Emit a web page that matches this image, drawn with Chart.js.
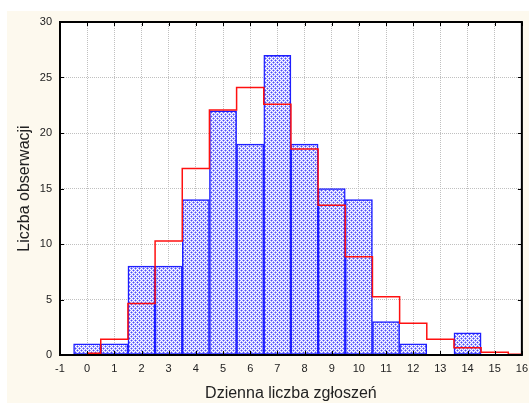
<!DOCTYPE html>
<html lang="pl">
<head>
    <meta charset="UTF-8">
    <title>Dzienna liczba zgłoszeń</title>
    <script src="https://cdn.jsdelivr.net/npm/chart.js"></script>
    <style>
        html, body { margin: 0; padding: 0; background: #ffffff; overflow: hidden; }
        .wrap { position: relative; width: 529px; height: 403px; overflow: hidden; }
        .cream { position: absolute; left: 7px; top: 11px; right: 0; bottom: 0; background: #fdf9ee; }
        #chart { position: absolute; left: 0; top: 0; }
    </style>
</head>
<body>
    <div class="wrap">
        <div class="cream"></div>
        <canvas id="chart" width="535" height="403"></canvas>
    </div>
    <script>
        // liczba zgłoszeń w ciągu dnia (środki klas)
        const bins = [0, 1, 2, 3, 4, 5, 6, 7, 8, 9, 10, 11, 12, 13, 14, 15];
        // liczba obserwacji w klasach
        const observed = [1, 1, 8, 8, 14, 22, 19, 27, 19, 15, 14, 3, 1, 0, 2, 0];
        // rozkład oczekiwany (linia schodkowa), klasy 0..16 obcięte do [0, 16]
        const expected = [0.15, 1.41, 4.65, 10.27, 16.8, 22.07, 24.1, 22.6, 18.55, 13.5, 8.86, 5.25, 2.85, 1.41, 0.66, 0.24, 0.06];
        const xMin = -1, xMax = 16;

        // wzór kropkowany dla słupków
        function makePattern() {
            const c = document.createElement('canvas');
            c.width = 4; c.height = 4;
            const g = c.getContext('2d');
            const W = '#ffffff', L = '#a4a4ff', B = '#4646ff';
            const tile = [
                [L, W, L, B],
                [W, L, W, L],
                [L, B, L, W],
                [W, L, W, L]
            ];
            tile.forEach((row, y) => row.forEach((col, x) => { g.fillStyle = col; g.fillRect(x, y, 1, 1); }));
            return document.getElementById('chart').getContext('2d').createPattern(c, 'repeat');
        }

        const barData = bins.map((b, i) => ({ x: b, y: observed[i] }));
        const stepData = expected.map((v, k) => ({ x: Math.max(k - 0.5, 0), y: v }));
        stepData.push({ x: xMax, y: expected[expected.length - 1] });

        const frame = {
            id: 'frame',
            beforeDraw(chart) {
                const a = chart.chartArea, ctx = chart.ctx;
                ctx.save();
                ctx.fillStyle = '#ffffff';
                ctx.fillRect(a.left, a.top, a.right - a.left, a.bottom - a.top);
                ctx.restore();
            },
            afterDraw(chart) {
                const a = chart.chartArea, ctx = chart.ctx;
                const xs = chart.scales.x, ys = chart.scales.y;
                ctx.save();
                ctx.strokeStyle = '#000000';
                ctx.lineWidth = 1;
                ctx.beginPath();
                xs.ticks.forEach(t => {
                    const px = Math.round(xs.getPixelForValue(t.value)) + 0.5;
                    ctx.moveTo(px, a.bottom); ctx.lineTo(px, a.bottom - 4);
                    ctx.moveTo(px, a.top); ctx.lineTo(px, a.top + 4);
                });
                ys.ticks.forEach(t => {
                    const py = Math.round(ys.getPixelForValue(t.value)) + 0.5;
                    ctx.moveTo(a.left, py); ctx.lineTo(a.left + 4, py);
                    ctx.moveTo(a.right, py); ctx.lineTo(a.right - 4, py);
                });
                ctx.stroke();
                ctx.lineWidth = 2;
                ctx.strokeRect(a.left, a.top, a.right - a.left, a.bottom - a.top);
                ctx.restore();
            }
        };

        new Chart(document.getElementById('chart'), {
            type: 'bar',
            data: {
                datasets: [
                    {
                        type: 'line',
                        data: stepData,
                        borderColor: '#ff1010',
                        borderWidth: 1.5,
                        stepped: 'before',
                        pointRadius: 0,
                        fill: false,
                        order: 0
                    },
                    {
                        data: barData,
                        backgroundColor: makePattern(),
                        borderColor: '#1e1eff',
                        borderWidth: 1.5,
                        borderSkipped: false,
                        barPercentage: 1,
                        categoryPercentage: 1,
                        order: 1
                    }
                ]
            },
            options: {
                responsive: false,
                animation: false,
                layout: { padding: { left: 0, top: 22, right: 11, bottom: 0 } },
                plugins: { legend: { display: false }, tooltip: { enabled: false } },
                scales: {
                    x: {
                        type: 'linear',
                        offset: false,
                        min: xMin,
                        max: xMax,
                        afterFit: s => { s.height = 48; },
                        border: { display: false, dash: [1, 1] },
                        grid: { color: '#c0c0c0', drawTicks: false, offset: false },
                        ticks: { stepSize: 1, padding: 7, color: '#222222', font: { family: 'Liberation Sans', size: 11 } },
                        title: { display: true, text: 'Dzienna liczba zgłoszeń', color: '#222222', padding: { top: 0, bottom: 0 }, font: { family: 'Liberation Sans', size: 16 } }
                    },
                    y: {
                        min: 0,
                        max: 30,
                        afterFit: s => { s.width = 60; },
                        border: { display: false, dash: [1, 1] },
                        grid: { color: '#c0c0c0', drawTicks: false },
                        ticks: { stepSize: 5, padding: 8, color: '#222222', font: { family: 'Liberation Sans', size: 11 } },
                        title: { display: true, text: 'Liczba obserwacji', color: '#222222', padding: { top: 15, bottom: 0 }, font: { family: 'Liberation Sans', size: 16 } }
                    }
                }
            },
            plugins: [frame]
        });
    </script>
</body>
</html>
